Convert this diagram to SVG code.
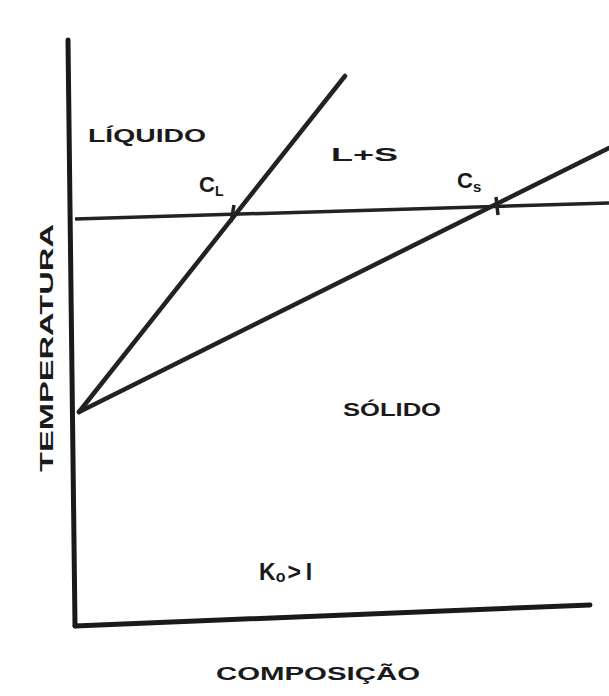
<svg xmlns="http://www.w3.org/2000/svg" width="609" height="696" viewBox="0 0 609 696">
<style>
.ax{stroke:#1a1a1a;stroke-width:5;fill:none;stroke-linecap:round}
.ln{stroke:#222;stroke-width:4.5;fill:none;stroke-linecap:round}
.h{stroke:#222;stroke-width:3.5;fill:none}
.t{font-family:"Liberation Sans",Arial,sans-serif;font-weight:bold;fill:#1a1a1a}
</style>
<rect width="609" height="696" fill="#fff"/>
<g id="connectors">
<path class="ax" d="M68,40 L75,626"/>
<path class="ax" d="M75,626 L590,605"/>
<path class="h" d="M75,219 L609,203"/>
<path class="ln" d="M79,412 L345,76"/>
<path class="ln" d="M79,412 L609,148"/>
<path class="h" d="M234,205 L231,222"/>
<path class="h" d="M496,197 L498,215"/>
</g>
<g id="liquido"><text class="t" x="88" y="142" font-size="18" textLength="118" lengthAdjust="spacingAndGlyphs">LÍQUIDO</text></g>
<g id="ls"><text class="t" x="331" y="161" font-size="19" textLength="67" lengthAdjust="spacingAndGlyphs">L+S</text></g>
<g id="cl"><text class="t" x="199" y="192" font-size="22">C<tspan font-size="14" dy="4">L</tspan></text></g>
<g id="cs"><text class="t" x="457" y="188" font-size="22">C<tspan font-size="15" dy="4">s</tspan></text></g>
<g id="solido"><text class="t" x="343" y="416" font-size="18" textLength="98" lengthAdjust="spacingAndGlyphs">SÓLIDO</text></g>
<g id="k0"><text class="t" x="259" y="580" font-size="23">K<tspan font-size="16" dy="2">o</tspan><tspan dy="-2" dx="2">&gt;</tspan><tspan dx="5">I</tspan></text></g>
<g id="composicao"><text class="t" x="216" y="680" font-size="19" textLength="204" lengthAdjust="spacingAndGlyphs">COMPOSIÇÃO</text></g>
<g id="temperatura"><text class="t" x="0" y="0" font-size="19" textLength="248" lengthAdjust="spacingAndGlyphs" transform="translate(53,472) rotate(-90)">TEMPERATURA</text></g>
</svg>
